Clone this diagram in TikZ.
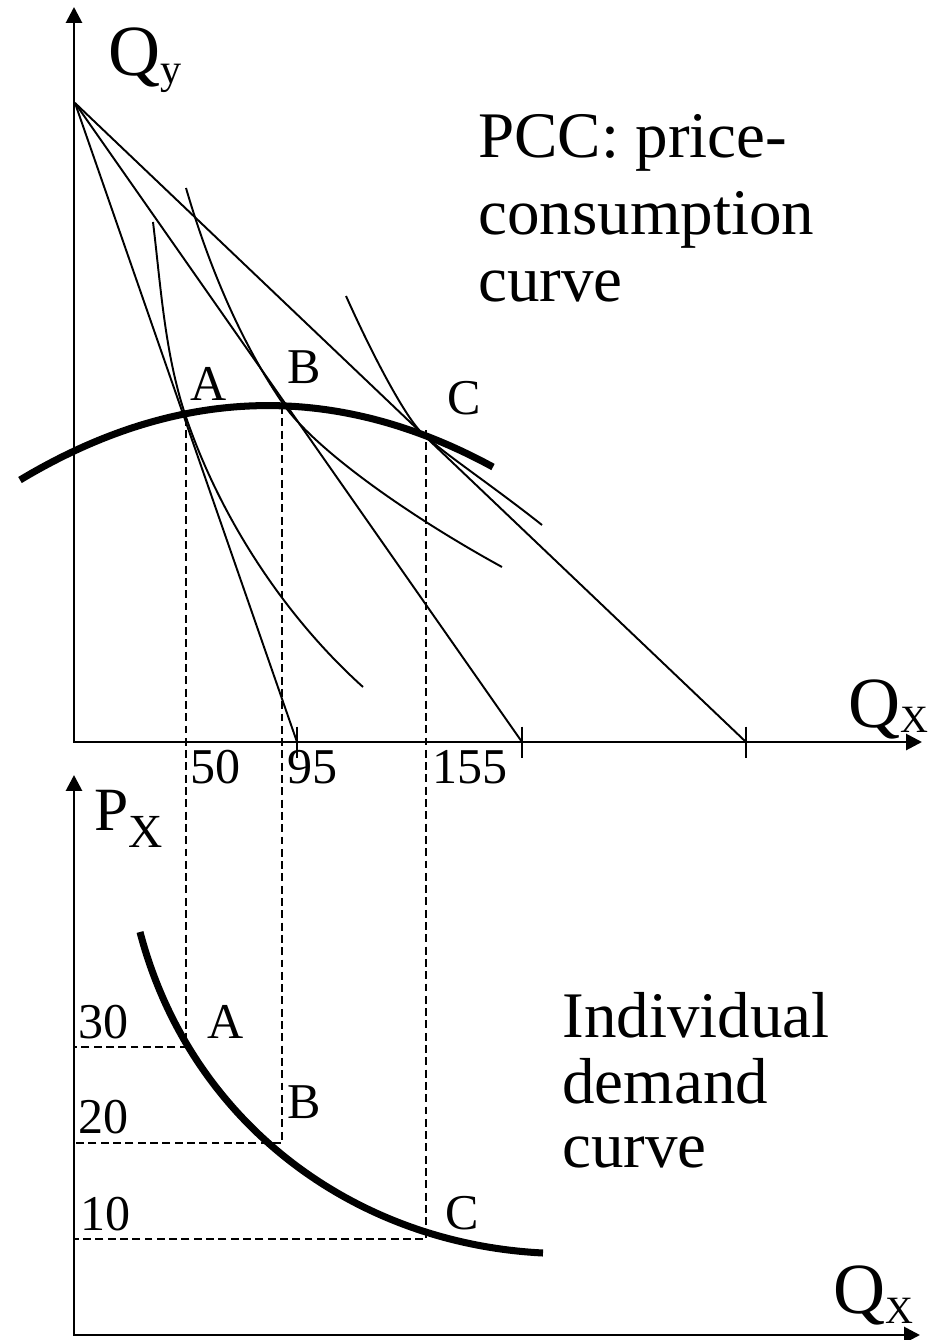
\documentclass[tikz,border=0pt]{standalone}
\usepackage{fontspec}
\setmainfont{Liberation Serif}
\usetikzlibrary{arrows.meta}

\begin{document}
\begin{tikzpicture}[x=0.2mm,y=-0.2mm,>={Triangle[length=9pt,width=9pt]},
  axisline/.style={line width=1.6pt},
  curveline/.style={line width=1.1pt},
  boldcurve/.style={line width=4pt},
  guide/.style={line width=1.1pt,dash pattern=on 4.5pt off 2.5pt},
  lbl/.style={anchor=base west,inner sep=0pt,font=\fontsize{28.5}{30}\selectfont},
  note/.style={anchor=base west,inner sep=0pt,font=\fontsize{37}{40}\selectfont}]
  \useasboundingbox (0,0) rectangle (932,1340);
  % upper panel
  \coordinate (o1) at (74,742);
  \coordinate (m) at (75,103);
  \coordinate (b1) at (297,742);
  \coordinate (b2) at (522,742);
  \coordinate (b3) at (746,742);
  \coordinate (ptA) at (186,418);
  \coordinate (ptB) at (282,406);
  \coordinate (ptC) at (426,430);
  \draw[axisline,<->] (74,7) -- (o1) -- (922,742);
  \foreach \p in {b1,b2,b3} {
    \draw[curveline] (m) -- (\p);
    \draw[curveline] ([yshift=3.1mm]\p) -- ([yshift=-3.2mm]\p);
  }
  % indifference curves
  \coordinate (ia) at (187,420);
  \coordinate (ib) at (284,405);
  \coordinate (ic) at (422,433);
  \draw[curveline] (153,222) .. controls (161,288) and (165,357) .. (ia)
    .. controls (221.2,518.6) and (284.2,616) .. (363,687);
  \draw[curveline] (186,188) .. controls (211,274) and (245,349) .. (ib)
    .. controls (312.8,446.2) and (400,511) .. (502,567);
  \draw[curveline] (346,296) .. controls (376.5,363.9) and (406.9,418.7) .. (ic)
    .. controls (443.2,453.2) and (491.2,484.7) .. (542,525);
  % price-consumption curve
  \draw[boldcurve] (20,480) .. controls (177.7,385.3) and (335.3,381) .. (493,467);
  % lower panel
  \coordinate (o2) at (74,1335);
  \coordinate (dA) at (186,1047);
  \coordinate (dB) at (282,1143);
  \coordinate (dC) at (426,1239);
  \coordinate (p30) at (74,1047);
  \coordinate (p20) at (74,1143);
  \coordinate (p10) at (74,1239);
  \draw[axisline,<->] (74,775) -- (o2) -- (920,1335);
  \draw[guide] (ptA) -- (dA) -- (p30);
  \draw[guide] (ptB) -- (dB) -- (p20);
  \draw[guide] (ptC) -- (dC) -- (p10);
  \draw[boldcurve] (140,932) .. controls (189.8,1122) and (353,1243.5) .. (543,1253);
  % labels
  \node[anchor=base west,inner sep=0pt,font=\fontsize{41}{41}\selectfont] (qy) at (108,76) {Q\raisebox{-4.5pt}{\fontsize{24}{24}\selectfont y}};
  \node[anchor=base west,inner sep=0pt,font=\fontsize{41}{41}\selectfont] (qx1) at (848,727) {Q\raisebox{-3.4pt}{\fontsize{22}{22}\selectfont X}};
  \node[anchor=base west,inner sep=0pt,font=\fontsize{35}{35}\selectfont] (px) at (94,830) {P\raisebox{-10pt}{\fontsize{27}{27}\selectfont X}};
  \node[anchor=base west,inner sep=0pt,font=\fontsize{41}{41}\selectfont] (qx2) at (833,1313) {Q\raisebox{-5.7pt}{\fontsize{22}{22}\selectfont X}};
  \node[note] (pcc1) at (478,158) {PCC: price-};
  \node[note] (pcc2) at (478,235) {consumption};
  \node[note] (pcc3) at (478,302) {curve};
  \node[note] (dem1) at (562,1037) {Individual};
  \node[note] (dem2) at (562,1103) {demand};
  \node[note] (dem3) at (562,1167) {curve};
  \node[lbl] (la) at (190,400) {A};
  \node[lbl] (lb) at (287,383) {B};
  \node[lbl] (lc) at (447,414) {C};
  \node[lbl] (t50) at (190,783) {50};
  \node[lbl] (t95) at (287,783) {95};
  \node[lbl] (t155) at (432,783) {155};
  \node[lbl] (t30) at (78,1038) {30};
  \node[lbl] (t20) at (78,1133) {20};
  \node[lbl] (t10) at (80,1230) {10};
  \node[lbl] (da) at (207,1038) {A};
  \node[lbl] (db) at (287,1118) {B};
  \node[lbl] (dc) at (445,1229) {C};
\end{tikzpicture}
\end{document}
